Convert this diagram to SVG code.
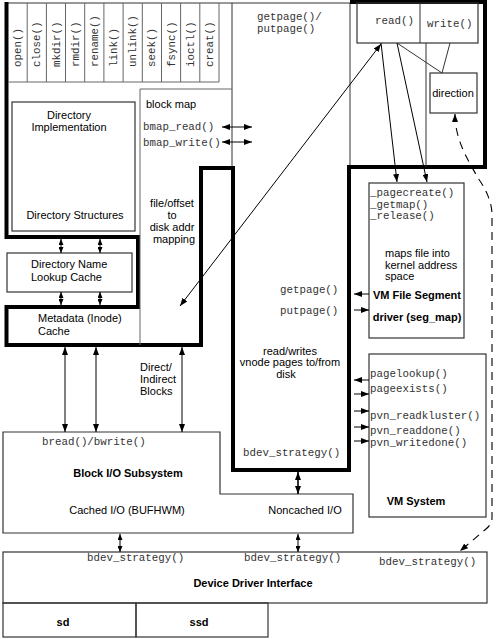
<svg xmlns="http://www.w3.org/2000/svg" width="500" height="639" viewBox="0 0 500 639">
<defs>
<marker id="ah" viewBox="0 0 8 6" refX="8" refY="3" markerWidth="8" markerHeight="6" markerUnits="userSpaceOnUse" orient="auto-start-reverse"><path d="M0,0 L8,3 L0,6 z" fill="#000"/></marker>
<marker id="sh" viewBox="0 0 6 5" refX="6" refY="2.5" markerWidth="6" markerHeight="5" markerUnits="userSpaceOnUse" orient="auto-start-reverse"><path d="M0,0 L6,2.5 L0,5 z" fill="#000"/></marker>
</defs>
<style>
.thin{fill:none;stroke:#333;stroke-width:1}
.gray{fill:none;stroke:#666;stroke-width:1}
.thick{fill:none;stroke:#000;stroke-width:4;stroke-linejoin:miter}
.box{fill:none;stroke:#333;stroke-width:1.2}
.s{font-family:"Liberation Sans",Arial,sans-serif;font-size:11px;fill:#000}
.b{font-weight:bold}
.m{font-family:"Liberation Mono","Courier New",monospace;font-size:10.8px;fill:#333}
.c{text-anchor:middle}
.arr{fill:none;stroke:#000;stroke-width:1;marker-end:url(#ah)}
.dbl{fill:none;stroke:#000;stroke-width:1;marker-start:url(#ah);marker-end:url(#ah)}
.sdbl{fill:none;stroke:#000;stroke-width:1;marker-start:url(#sh);marker-end:url(#sh)}
.dash{fill:none;stroke:#000;stroke-width:1.1;stroke-dasharray:8 6;marker-start:url(#ah);marker-end:url(#ah)}
</style>
<rect width="500" height="639" fill="#fff"/>

<g id="frame">
<path class="thin" d="M6,3 H350 M350,3 V167 M232,3 V167"/>
<path class="thick" d="M350,2 H485 V167 H349 V470 H233 V168 H201 V345 H6.5 V307 H138 V237 H6.5 V2"/>
</g>

<g id="syscalls">
<path class="gray" d="M8,82 H219 V3 M27.2,3 V82 M46.4,3 V82 M65.5,3 V82 M84.7,3 V82 M103.9,3 V82 M123.1,3 V82 M142.3,3 V82 M161.5,3 V82 M180.6,3 V82 M199.8,3 V82"/>
<text class="m" transform="translate(21.1,67) rotate(-90)">open()</text>
<text class="m" transform="translate(40.3,67) rotate(-90)">close()</text>
<text class="m" transform="translate(59.5,67) rotate(-90)">mkdir()</text>
<text class="m" transform="translate(78.6,67) rotate(-90)">rmdir()</text>
<text class="m" transform="translate(97.8,67) rotate(-90)">rename()</text>
<text class="m" transform="translate(117,67) rotate(-90)">link()</text>
<text class="m" transform="translate(136.2,67) rotate(-90)">unlink()</text>
<text class="m" transform="translate(155.4,67) rotate(-90)">seek()</text>
<text class="m" transform="translate(174.6,67) rotate(-90)">fsync()</text>
<text class="m" transform="translate(193.7,67) rotate(-90)">ioctl()</text>
<text class="m" transform="translate(212.9,67) rotate(-90)">creat()</text>
</g>

<g id="dir-impl">
<rect class="box" x="12" y="102" width="123" height="129"/>
<text class="s c" x="69" y="119">Directory</text>
<text class="s c" x="69" y="131">Implementation</text>
<text class="s c" x="75" y="219">Directory Structures</text>
</g>

<g id="dnlc">
<rect class="box" x="7" y="253" width="125" height="39"/>
<text class="s" x="31" y="268">Directory Name</text>
<text class="s" x="31" y="281">Lookup Cache</text>
</g>

<g id="metadata">
<text class="s" x="38" y="322">Metadata (Inode)</text>
<text class="s" x="38" y="335">Cache</text>
</g>

<g id="block-map">
<path class="gray" d="M140,89 H232 M140,89 V345"/>
<text class="s" x="146" y="108">block map</text>
<text class="m" x="143" y="130">bmap_read()</text>
<text class="m" x="143" y="146">bmap_write()</text>
<text class="s c" x="172" y="207">file/offset</text>
<text class="s c" x="172" y="219">to</text>
<text class="s c" x="172" y="231">disk addr</text>
<text class="s c" x="174" y="243">mapping</text>
</g>

<g id="getpage-putpage">
<text class="m" x="257" y="20">getpage()/</text>
<text class="m" x="257" y="32">putpage()</text>
</g>

<g id="read-write">
<rect class="box" x="357" y="3" width="121" height="40"/>
<line class="thin" x1="420" y1="3" x2="420" y2="43"/>
<text class="m" x="375" y="24">read()</text>
<text class="m" x="427" y="27">write()</text>
</g>

<g id="direction">
<rect class="box" x="430" y="73" width="47" height="40"/>
<text class="s c" x="453" y="97">direction</text>
</g>

<g id="vm-file-segment">
<rect class="box" x="369" y="183" width="95" height="155"/>
<text class="m" x="370" y="196">_pagecreate()</text>
<text class="m" x="370" y="208">_getmap()</text>
<text class="m" x="370" y="219">_release()</text>
<text class="s" x="385" y="257">maps file into</text>
<text class="s" x="385" y="269">kernel address</text>
<text class="s" x="385" y="280">space</text>
<text class="s b c" x="417" y="299">VM File Segment</text>
<text class="s b c" x="417" y="321">driver (seg_map)</text>
<text class="m" x="280" y="293">getpage()</text>
<text class="m" x="280" y="314">putpage()</text>
</g>

<g id="vnode-io">
<text class="s c" x="290" y="355">read/writes</text>
<text class="s c" x="290" y="366">vnode pages to/from</text>
<text class="s c" x="286" y="378">disk</text>
<text class="m" x="243" y="456">bdev_strategy()</text>
</g>

<g id="vm-system">
<rect class="box" x="369" y="354" width="117" height="163"/>
<text class="m" x="370" y="377">pagelookup()</text>
<text class="m" x="370" y="392">pageexists()</text>
<text class="m" x="370" y="419">pvn_readkluster()</text>
<text class="m" x="370" y="434">pvn_readdone()</text>
<text class="m" x="370" y="446">pvn_writedone()</text>
<text class="s b c" x="416" y="505">VM System</text>
</g>

<g id="block-io">
<path class="box" d="M3,432 H220 V494 H353 V533 H3 Z"/>
<text class="m" x="42" y="445">bread()/bwrite()</text>
<text class="s b c" x="128" y="477">Block I/O Subsystem</text>
<text class="s c" x="127" y="514">Cached I/O (BUFHWM)</text>
<text class="s" x="140" y="371">Direct/</text>
<text class="s" x="140" y="383">Indirect</text>
<text class="s" x="140" y="395">Blocks</text>
</g>

<g id="noncached">
<text class="s c" x="305" y="514">Noncached I/O</text>
</g>

<g id="ddi">
<rect class="box" x="3" y="552" width="484" height="51"/>
<text class="m" x="87" y="561">bdev_strategy()</text>
<text class="m" x="244" y="561">bdev_strategy()</text>
<text class="m" x="379" y="565">bdev_strategy()</text>
<text class="s b c" x="253" y="587">Device Driver Interface</text>
</g>

<g id="sd">
<rect class="box" x="3" y="603" width="133" height="34"/>
<text class="s b c" x="63" y="626">sd</text>
</g>

<g id="ssd">
<rect class="box" x="136" y="603" width="132" height="34"/>
<text class="s b c" x="199" y="626">ssd</text>
</g>

<g id="connectors">
<line class="dbl" x1="222" y1="127" x2="252" y2="127"/>
<line class="dbl" x1="222" y1="142" x2="252" y2="142"/>
<line class="dbl" x1="180" y1="306" x2="381" y2="44"/>
<line class="arr" x1="381" y1="43" x2="397" y2="182"/>
<line class="arr" x1="397" y1="43" x2="427" y2="182"/>
<line class="thin" x1="426" y1="43" x2="426" y2="167"/>
<line class="thin" x1="397" y1="43" x2="442" y2="73"/>
<line class="thin" x1="450" y1="43" x2="442" y2="73"/>
<path class="dash" d="M455,114 C455,140 468,160 478,178 Q492,198 492,215 V518 Q492,524 486,529 L460,551"/>
<line class="sdbl" x1="61" y1="239" x2="61" y2="253"/>
<line class="sdbl" x1="100" y1="239" x2="100" y2="253"/>
<line class="sdbl" x1="61" y1="292" x2="61" y2="305"/>
<line class="sdbl" x1="100" y1="292" x2="100" y2="305"/>
<line class="dbl" x1="65" y1="347" x2="65" y2="432"/>
<line class="dbl" x1="96" y1="347" x2="96" y2="432"/>
<line class="dbl" x1="182" y1="347" x2="182" y2="432"/>
<line class="arr" x1="369" y1="294" x2="354" y2="294"/>
<line class="arr" x1="354" y1="310" x2="369" y2="310"/>
<line class="arr" x1="369" y1="380" x2="354" y2="380"/>
<line class="arr" x1="354" y1="394" x2="369" y2="394"/>
<line class="arr" x1="354" y1="411" x2="369" y2="411"/>
<line class="arr" x1="354" y1="427" x2="369" y2="427"/>
<line class="arr" x1="354" y1="441" x2="369" y2="441"/>
<line class="dbl" style="stroke-width:1.6" x1="298" y1="472" x2="298" y2="494"/>
<line class="sdbl" x1="120" y1="534" x2="120" y2="552"/>
<line class="sdbl" x1="298" y1="534" x2="298" y2="552"/>
</g>
</svg>
